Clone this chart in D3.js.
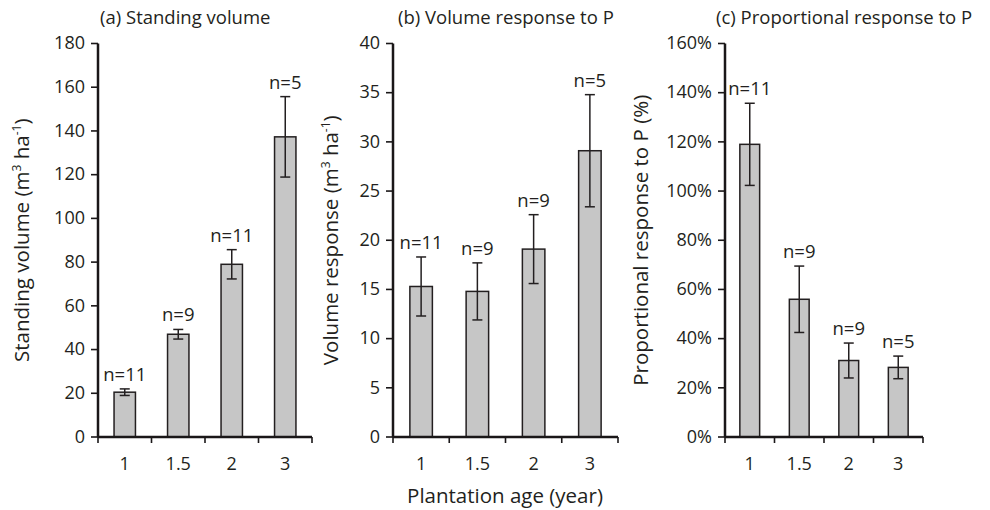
<!DOCTYPE html>
<html>
<head>
<meta charset="utf-8">
<script src="https://cdn.jsdelivr.net/npm/d3@7"></script>
<style>
  body { margin: 0; background: #fff; }
  svg { font-family: "Open Sans", "Noto Sans", sans-serif; }
  text { fill: #231f20; }
  .axis path, .axis line { stroke: #1a1718; }
  .axis path { stroke-width: 2.5px; }
  .axis line { stroke-width: 1.6px; }
</style>
</head>
<body>
<div id="chart"></div>
<script>
// ---------------- data ----------------
const ages = ["1", "1.5", "2", "3"];

// (a) standing volume, m3/ha
const standMean = [20.5, 47, 79, 137.3];
const standErr = [1.5, 2.2, 6.7, 18.4];
const standN = [11, 9, 11, 5];

// (b) volume response to P, m3/ha
const respMean = [15.3, 14.8, 19.1, 29.1];
const respErr = [3.0, 2.9, 3.5, 5.7];
const respN = [11, 9, 9, 5];

// (c) proportional response to P, %
const propMean = [119, 56, 31.1, 28.3];
const propErr = [16.7, 13.5, 7.1, 4.6];
const propN = [11, 9, 9, 5];

const yTicksA = [0, 20, 40, 60, 80, 100, 120, 140, 160, 180];
const yTicksB = [0, 5, 10, 15, 20, 25, 30, 35, 40];
const yTicksC = [0, 20, 40, 60, 80, 100, 120, 140, 160];

// ---------------- layout ----------------
const width = 990, height = 510;
const yTop = 43.5, yBottom = 437;
const ink = "#231f20";

const panels = [
  { title: "(a) Standing volume", x0: 98, x1: 312, titleX: 100, ylabX: 22,
    mean: standMean, err: standErr, n: standN, ticks: yTicksA, max: 180, fmt: d => d,
    ylab: [["Standing volume (m", 0], ["3", 1], [" ha", 0], ["-1", 1], [")", 0]] },
  { title: "(b) Volume response to P", x0: 393, x1: 618, titleX: 398, ylabX: 331,
    mean: respMean, err: respErr, n: respN, ticks: yTicksB, max: 40, fmt: d => d,
    ylab: [["Volume response (m", 0], ["3", 1], [" ha", 0], ["-1", 1], [")", 0]] },
  { title: "(c) Proportional response to P", x0: 725, x1: 923, titleX: 716, ylabX: 641,
    mean: propMean, err: propErr, n: propN, ticks: yTicksC, max: 160, fmt: d => d + "%",
    ylab: [["Proportional response to P (%)", 0]] }
];

const svg = d3.select("#chart").append("svg")
  .attr("width", width)
  .attr("height", height);

panels.forEach(p => {
  const g = svg.append("g");

  const x = d3.scaleBand()
    .domain(ages)
    .range([p.x0, p.x1])
    .paddingInner(0.6)
    .paddingOuter(0.3);

  const xEdges = d3.scaleLinear().domain([0, ages.length]).range([p.x0, p.x1]);

  const y = d3.scaleLinear().domain([0, p.max]).range([yBottom, yTop]);

  const rows = ages.map((a, i) => ({ age: a, mean: p.mean[i], err: p.err[i], n: p.n[i] }));

  // bars
  g.selectAll(".bar")
    .data(rows)
    .enter()
    .append("rect")
    .attr("class", "bar")
    .attr("x", d => x(d.age))
    .attr("y", d => y(d.mean))
    .attr("width", x.bandwidth())
    .attr("height", d => y(0) - y(d.mean))
    .attr("fill", "#c6c6c6")
    .attr("stroke", ink)
    .attr("stroke-width", 1.5);

  // error bars
  const cx = d => x(d.age) + x.bandwidth() / 2;
  const eb = g.selectAll(".err").data(rows).enter().append("g").attr("class", "err")
    .attr("stroke", ink).attr("stroke-width", 1.5);
  eb.append("line")
    .attr("x1", cx).attr("x2", cx)
    .attr("y1", d => y(d.mean - d.err)).attr("y2", d => y(d.mean + d.err));
  eb.append("line")
    .attr("x1", d => cx(d) - 5).attr("x2", d => cx(d) + 5)
    .attr("y1", d => y(d.mean + d.err)).attr("y2", d => y(d.mean + d.err));
  eb.append("line")
    .attr("x1", d => cx(d) - 5).attr("x2", d => cx(d) + 5)
    .attr("y1", d => y(d.mean - d.err)).attr("y2", d => y(d.mean - d.err));

  // n labels
  g.selectAll(".nlab")
    .data(rows)
    .enter()
    .append("text")
    .attr("class", "nlab")
    .attr("x", cx)
    .attr("y", d => y(d.mean + d.err) - 8)
    .attr("text-anchor", "middle")
    .style("font-size", "18.5px")
    .text(d => "n=" + d.n);

  // y axis
  const yAxis = g.append("g")
    .attr("class", "axis")
    .attr("transform", `translate(${p.x0},0)`)
    .call(d3.axisLeft(y).tickValues(p.ticks).tickFormat(p.fmt)
      .tickSize(7).tickSizeOuter(0).tickPadding(6).offset(0));
  yAxis.selectAll(".tick text").style("font-size", "18px")
    .style("font-family", "'Open Sans', 'Noto Sans', sans-serif");

  // x axis: ticks between categories
  g.append("g")
    .attr("class", "axis")
    .attr("transform", `translate(0,${yBottom})`)
    .call(d3.axisBottom(xEdges).tickValues(d3.range(ages.length + 1))
      .tickFormat("").tickSize(6).tickSizeOuter(0).offset(0));

  g.selectAll(".xlab")
    .data(ages)
    .enter()
    .append("text")
    .attr("class", "xlab")
    .attr("x", d => x(d) + x.bandwidth() / 2)
    .attr("y", yBottom + 33)
    .attr("text-anchor", "middle")
    .style("font-size", "18px")
    .text(d => d);

  // panel title
  g.append("text")
    .attr("x", p.titleX)
    .attr("y", 24)
    .style("font-size", "18.5px")
    .text(p.title);

  // y axis title
  const yl = g.append("text")
    .attr("transform", `translate(${p.ylabX},${(yTop + yBottom) / 2}) rotate(-90)`)
    .attr("text-anchor", "middle")
    .attr("dy", "0.35em")
    .style("font-size", "20.5px");
  p.ylab.forEach(([t, sup]) => {
    const ts = yl.append("tspan").text(t);
    if (sup) ts.attr("baseline-shift", "super").style("font-size", "12px");
  });
});

// shared x axis title
svg.append("text")
  .attr("x", 505)
  .attr("y", 503)
  .attr("text-anchor", "middle")
  .style("font-size", "20.5px")
  .text("Plantation age (year)");
</script>
</body>
</html>
